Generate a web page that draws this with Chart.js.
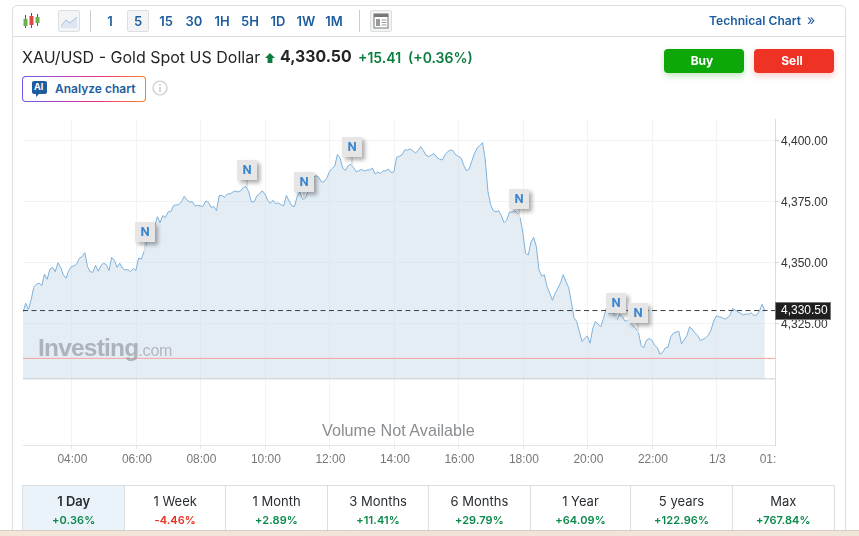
<!DOCTYPE html>
<html lang="en">
<head>
<meta charset="UTF-8" />
<title>XAU/USD - Gold Spot US Dollar</title>
<script src="https://cdn.jsdelivr.net/npm/chart.js@4"></script>
<style>
  html, body { margin: 0; padding: 0; background: #fff; }
  body { width: 859px; height: 536px; overflow: hidden; position: relative; font-family: Inter, "Noto Sans", sans-serif; color: #232526; }
  .abs { position: absolute; white-space: nowrap; }
  #card { position: absolute; left: 12px; top: 5px; width: 832px; height: 540px; border: 1px solid #dcdfe2; border-radius: 5px; box-sizing: content-box; }
  #topline { position: absolute; left: 12px; top: 36px; width: 833px; height: 1px; background: #dcdfe2; }
  #c { position: absolute; left: 0; top: 0; }
  .res { position: absolute; top: 10px; width: 22px; height: 22px; line-height: 22px; text-align: center; font-size: 13px; font-weight: 600; color: #1d5c9e; }
  .res.on { background: #f3f4f5; border: 1px solid #dcdfe2; border-radius: 2px; line-height: 20px; box-sizing: border-box; }
  .sep { position: absolute; top: 10px; width: 1px; height: 22px; background: #c9ccd0; }
  .iconbox { position: absolute; top: 10px; width: 22px; height: 22px; background: #f3f4f5; border: 1px solid #dcdfe2; box-sizing: border-box; border-radius: 2px; }
  .btn { position: absolute; top: 49px; width: 80px; height: 24px; line-height: 23px; border-radius: 4px; color: #fff; font-size: 12px; font-weight: 700; text-align: center; padding-right: 4px; box-sizing: border-box; }
  #tabs { position: absolute; left: 22px; top: 485px; width: 813px; height: 60px; border: 1px solid #dcdfe2; box-sizing: border-box; display: flex; }
  .tab { border-right: 1px solid #dcdfe2; box-sizing: border-box; text-align: center; font-size: 13px; color: #2a2e33; padding-top: 7px; }
  .tab:last-child { border-right: 0; }
  .tab b { font-weight: 600; }
  .tab div { font-size: 11px; font-weight: 600; margin-top: 4px; letter-spacing: .1px; }
  #band { position: absolute; left: 0; top: 530px; width: 859px; height: 6px; border-top: 1px solid #d8cdc4; box-sizing: border-box; background: linear-gradient(90deg, #f3e6d8, #f1e2da 60%, #f0e6d8); }
</style>
</head>
<body>
  <div id="card"></div>
  <div id="topline"></div>
  <canvas id="c" width="859" height="536"></canvas>

  <!-- toolbar -->
  <svg class="abs" style="left:22px;top:12px" width="20" height="18" viewBox="0 0 20 18">
    <path d="M3.5 3v13M9.5 1v15M15.5 2v12" stroke="#555" stroke-width="1"/>
    <rect x="1.5" y="7" width="4" height="7" fill="#6ab04c"/><rect x="7.5" y="4" width="4" height="9" fill="#e0483e"/><rect x="13.5" y="5" width="4" height="6" fill="#6ab04c"/>
  </svg>
  <div class="iconbox" style="left:58px">
    <svg width="20" height="20" viewBox="0 0 20 20"><path d="M2 15L7 9l4 3 7-6v11H2z" fill="#dde6f2"/><path d="M2 15L7 9l4 3 7-6" fill="none" stroke="#a9bcd8"/></svg>
  </div>
  <div class="sep" style="left:90px"></div>
  <div class="res" style="left:99px">1</div>
  <div class="res on" style="left:127px">5</div>
  <div class="res" style="left:155px">15</div>
  <div class="res" style="left:183px">30</div>
  <div class="res" style="left:211px">1H</div>
  <div class="res" style="left:239px">5H</div>
  <div class="res" style="left:267px">1D</div>
  <div class="res" style="left:295px">1W</div>
  <div class="res" style="left:323px">1M</div>
  <div class="sep" style="left:359px"></div>
  <div class="iconbox" style="left:370px">
    <svg width="20" height="20" viewBox="0 0 20 20"><rect x="3" y="3" width="14" height="14" fill="#fff" stroke="#777"/><rect x="3" y="3" width="14" height="3" fill="#777"/><rect x="5" y="8" width="4" height="7" fill="#999"/><path d="M10.5 9h5M10.5 11.5h5M10.5 14h5" stroke="#999"/></svg>
  </div>
  <div class="abs" style="left:709px;top:13px;font-size:12.1px;font-weight:600;color:#1d5c9e">Technical Chart</div>
  <div class="abs" style="left:807px;top:11px;font-size:14px;color:#1d5c9e">»</div>

  <!-- title row -->
  <div class="abs" style="left:22px;top:47px;font-size:16px;line-height:20px">XAU/USD - Gold Spot US Dollar</div>
  <svg class="abs" style="left:265px;top:53px" width="10" height="10" viewBox="0 0 10 10"><path d="M5 0l5 5H7.4v5H2.6V5H0z" fill="#0a7d3e"/></svg>
  <div class="abs" style="left:280px;top:47px;font-size:15.8px;line-height:20px;font-weight:700">4,330.50</div>
  <div class="abs" style="left:358px;top:48px;font-size:14px;line-height:20px;font-weight:600;color:#0a7d3e">+15.41</div>
  <div class="abs" style="left:408px;top:48px;font-size:14px;line-height:20px;font-weight:600;color:#0a7d3e">(+0.36%)</div>
  <div class="btn" style="left:664px;background:#0ea70a;box-shadow:0 3px 6px rgba(14,167,10,.25)">Buy</div>
  <div class="btn" style="left:754px;background:#ee3324;box-shadow:0 3px 6px rgba(238,51,36,.25)">Sell</div>

  <!-- analyze button -->
  <div class="abs" style="left:22px;top:76px;width:124px;height:26px;border-radius:4px;background:linear-gradient(90deg,#6a5cf0,#e8308a 60%,#f5821f);padding:1px;box-sizing:border-box">
    <div style="background:#fff;height:100%;border-radius:3px"></div>
  </div>
  <svg class="abs" style="left:32px;top:81px" width="15" height="16" viewBox="0 0 15 16"><path d="M2 0h11a2 2 0 012 2v9a2 2 0 01-2 2H7l-3 3v-3H2a2 2 0 01-2-2V2a2 2 0 012-2z" fill="#1d5c9e"/></svg>
  <div class="abs" style="left:34px;top:81px;font-size:9px;line-height:12px;font-weight:700;color:#fff">AI</div>
  <div class="abs" style="left:55px;top:81px;font-size:12px;line-height:15px;font-weight:600;color:#1d5c9e">Analyze chart</div>
  <svg class="abs" style="left:152px;top:80px" width="16" height="16" viewBox="0 0 16 16"><circle cx="8" cy="8" r="7" fill="none" stroke="#c4c7ca" stroke-width="1.2"/><path d="M8 7v5M8 4v1.5" stroke="#c4c7ca" stroke-width="1.4"/></svg>

  <!-- chart overlays -->
  <div class="abs" style="left:38px;top:333px;font-family:'Liberation Sans',sans-serif;font-size:24.5px;line-height:30px;font-weight:700;color:rgba(150,155,162,.7);letter-spacing:-.8px">Investing<span style="font-weight:400;font-size:16px;letter-spacing:-.2px;color:rgba(150,155,162,.65)">.com</span></div>
  <div class="abs" style="left:322px;top:421px;font-family:'Liberation Sans',sans-serif;font-size:16.2px;line-height:18px;color:#8a8d91">Volume Not Available</div>

  <!-- period tabs -->
  <div id="tabs"></div>
  <div id="band"></div>

<script>
// 5 minute closes starting at 02:30
const prices = [
  4329.8,4333.5,4331.0,4334.8,4340.0,4341.3,4341.7,4340.7,4345.4,4343.3,
  4347.5,4348.2,4346.4,4350.1,4348.2,4345.1,4343.7,4346.9,4348.5,4348.8,
  4349.6,4352.0,4352.6,4354.2,4348.5,4346.4,4346.2,4349.0,4346.6,4349.0,
  4349.9,4349.3,4346.9,4352.3,4351.0,4348.2,4349.9,4347.9,4347.1,4347.3,
  4346.4,4347.7,4346.9,4352.0,4351.5,4354.6,4358.1,4360.8,4363.5,4364.9,
  4369.0,4366.5,4369.4,4368.6,4371.0,4371.0,4373.5,4373.8,4373.9,4375.1,
  4377.3,4375.8,4375.0,4375.1,4373.4,4373.6,4373.4,4373.2,4375.4,4374.9,
  4372.8,4373.1,4371.4,4377.6,4377.7,4376.9,4378.3,4378.3,4379.0,4379.5,
  4379.1,4379.6,4381.0,4381.3,4379.2,4375.0,4375.0,4377.5,4378.3,4379.6,
  4378.3,4375.8,4374.4,4375.7,4374.4,4374.6,4373.9,4373.4,4377.7,4375.4,
  4373.4,4373.1,4377.2,4379.1,4376.1,4376.4,4379.2,4381.9,4385.1,4385.8,
  4385.1,4383.3,4383.2,4384.7,4387.4,4388.7,4389.7,4394.5,4392.9,4388.8,
  4388.0,4389.9,4390.4,4389.1,4387.4,4387.8,4388.4,4387.7,4388.1,4388.1,
  4388.9,4386.5,4387.2,4386.7,4387.7,4387.8,4388.5,4387.0,4387.4,4393.3,
  4393.7,4394.3,4396.3,4396.3,4396.7,4396.0,4395.1,4396.0,4397.7,4396.0,
  4394.1,4393.6,4394.3,4394.8,4393.3,4392.5,4392.2,4394.3,4395.6,4396.3,
  4396.0,4394.3,4393.7,4393.0,4390.0,4387.8,4388.5,4391.8,4394.9,4397.1,
  4398.2,4399.3,4392.2,4379.2,4373.9,4371.4,4371.0,4371.4,4369.3,4366.5,
  4367.6,4370.9,4370.8,4371.3,4370.4,4368.4,4362.2,4354.0,4353.3,4358.5,
  4360.5,4356.7,4347.1,4344.7,4345.1,4340.3,4337.6,4334.7,4337.6,4339.6,
  4341.9,4345.2,4342.5,4340.0,4334.2,4327.6,4326.1,4321.9,4317.8,4319.1,
  4320.1,4317.1,4323.2,4326.0,4324.9,4323.9,4327.3,4331.4,4329.2,4329.8,
  4329.1,4326.6,4329.1,4328.0,4326.1,4326.5,4325.5,4324.2,4323.1,4321.4,
  4316.1,4315.3,4318.4,4319.0,4318.4,4316.3,4315.3,4312.6,4313.4,4315.2,
  4315.4,4319.8,4321.2,4321.7,4322.0,4316.9,4318.4,4320.2,4323.8,4322.9,
  4321.4,4320.4,4318.2,4318.7,4319.4,4320.4,4322.5,4326.2,4328.4,4327.9,
  4327.7,4327.0,4327.5,4328.4,4331.3,4330.7,4329.9,4329.4,4328.7,4329.1,
  4329.0,4329.5,4328.5,4328.7,4330.3,4333.1,4330.5
];
const minuteStep = 5;

// levels
const lastPrice = 4330.50;
const redLevel = 4310.9;
const baseLevel = 4302.5;

// axes (x is minutes since 02:30)
const xMin = 0, xMax = 1399;
const yMin = 4275.4, yMax = 4409;
const xTickMinutes = [91, 211, 331, 451, 571, 691, 811, 931, 1051, 1171, 1291, 1385];
const xTickLabels = ['04:00','06:00','08:00','10:00','12:00','14:00','16:00','18:00','20:00','22:00','1/3','01:'];
const yTicks = [4325, 4350, 4375, 4400];

// news flags: minute they were published, and the level the flag sits at
const newsMinute = [227, 417, 523, 612, 923, 1103, 1144];
const newsLevel = [4362.7, 4388.1, 4383.2, 4397.5, 4376.2, 4333.6, 4329.5];

// period tabs
const periods = ['1 Day','1 Week','1 Month','3 Months','6 Months','1 Year','5 years','Max'];
const periodChange = ['+0.36%','-4.46%','+2.89%','+11.41%','+29.79%','+64.09%','+122.96%','+767.84%'];
const periodWidth = [102.5, 101, 102, 101.5, 101.5, 101, 101.5, 101.5];

const tabs = document.getElementById('tabs');
periods.forEach((p, i) => {
  const d = document.createElement('div');
  d.className = 'tab';
  d.style.width = periodWidth[i] + 'px';
  if (i === 0) d.style.background = '#eaf2fa';
  const col = periodChange[i][0] === '-' ? '#e8301c' : '#0a8a4a';
  d.innerHTML = (i === 0 ? '<b>' + p + '</b>' : p) + '<div style="color:' + col + '">' + periodChange[i] + '</div>';
  tabs.appendChild(d);
});

const axisFont = { family: '"Liberation Sans", Arial, sans-serif', size: 12 };
const flat = (level) => [{ x: xMin, y: level }, { x: xMax, y: level }];

// N flags and the price tag on the axis
const overlays = {
  id: 'overlays',
  afterDraw(chart) {
    const { ctx, scales: { x, y } } = chart;
    newsMinute.forEach((m, i) => {
      const px = Math.round(x.getPixelForValue(m));
      const py = Math.round(y.getPixelForValue(newsLevel[i]));
      const lineY = y.getPixelForValue(prices[Math.round(m / minuteStep)]);
      ctx.save();
      ctx.strokeStyle = '#e3e3e3';
      ctx.lineWidth = 2;
      ctx.beginPath();
      ctx.moveTo(px, py + 10);
      ctx.lineTo(px, Math.max(lineY, py + 14));
      ctx.stroke();
      ctx.shadowColor = 'rgba(0,0,0,.32)';
      ctx.shadowBlur = 4;
      ctx.shadowOffsetX = 3;
      ctx.shadowOffsetY = 3;
      ctx.fillStyle = '#e6e6e6';
      ctx.fillRect(px - 10, py - 10, 20, 20);
      ctx.shadowColor = 'transparent';
      ctx.fillStyle = '#3a85cd';
      ctx.font = '700 13px Roboto, sans-serif';
      ctx.textAlign = 'center';
      ctx.textBaseline = 'middle';
      ctx.fillText('N', px, py + 0.5);
      ctx.restore();
    });
    const ty = y.getPixelForValue(lastPrice);
    ctx.save();
    ctx.fillStyle = '#1f1f1f';
    ctx.strokeStyle = '#777';
    ctx.fillRect(775, Math.round(ty) - 9, 56, 18);
    ctx.strokeRect(775.5, Math.round(ty) - 8.5, 55, 17);
    ctx.fillStyle = '#fff';
    ctx.font = '12px "Liberation Sans", Arial, sans-serif';
    ctx.textBaseline = 'middle';
    ctx.textAlign = 'left';
    ctx.fillText(lastPrice.toLocaleString('en-US', { minimumFractionDigits: 2 }), 781, ty + 0.5);
    ctx.restore();
  }
};

new Chart(document.getElementById('c'), {
  type: 'line',
  data: {
    datasets: [
      {
        label: 'XAU/USD',
        data: prices.map((p, i) => ({ x: i * minuteStep, y: p })),
        borderColor: '#7db2dc',
        borderWidth: 1,
        backgroundColor: 'rgba(205,220,235,.55)',
        fill: { value: baseLevel },
        pointRadius: 0,
        tension: 0,
        order: 3
      },
      { label: 'base', data: flat(baseLevel), borderColor: '#c8ccd0', borderWidth: 1, pointRadius: 0, order: 2 },
      { label: 'red', data: flat(redLevel), borderColor: '#f5a3a3', borderWidth: 1, pointRadius: 0, order: 2 },
      { label: 'last', data: flat(lastPrice), borderColor: '#3a3f44', borderWidth: 1, borderDash: [5, 3.5], pointRadius: 0, order: 1 }
    ]
  },
  options: {
    responsive: false,
    animation: false,
    events: [],
    devicePixelRatio: 1,
    layout: { padding: { left: 23, top: 119, right: 0, bottom: 0 } },
    plugins: { legend: { display: false }, tooltip: { enabled: false } },
    scales: {
      x: {
        type: 'linear',
        min: xMin,
        max: xMax,
        afterBuildTicks: axis => { axis.ticks = xTickMinutes.map(v => ({ value: v })); },
        afterFit: axis => { axis.height = 91; },
        border: { color: '#e3e6e9' },
        grid: {
          color: c => (c.tick && c.tick.value === 1385 ? 'transparent' : '#f1f3f5'),
          tickColor: c => (c.tick && c.tick.value === 1385 ? 'transparent' : '#e3e6e9'),
          tickLength: 4
        },
        ticks: {
          autoSkip: false,
          maxRotation: 0,
          padding: 3,
          labelOffset: 0.5,
          color: '#777',
          font: axisFont,
          callback: v => xTickLabels[xTickMinutes.indexOf(v)]
        }
      },
      y: {
        position: 'right',
        min: yMin,
        max: yMax,
        afterBuildTicks: axis => { axis.ticks = yTicks.map(v => ({ value: v })); },
        afterFit: axis => { axis.width = 84; },
        border: { color: '#d8dce0' },
        grid: { color: '#f1f3f5', tickColor: '#d8dce0', tickLength: 4 },
        ticks: {
          padding: 2,
          labelOffset: 1,
          color: '#333',
          font: axisFont,
          callback: v => v.toLocaleString('en-US', { minimumFractionDigits: 2 })
        }
      }
    }
  },
  plugins: [overlays]
});
</script>
</body>
</html>
